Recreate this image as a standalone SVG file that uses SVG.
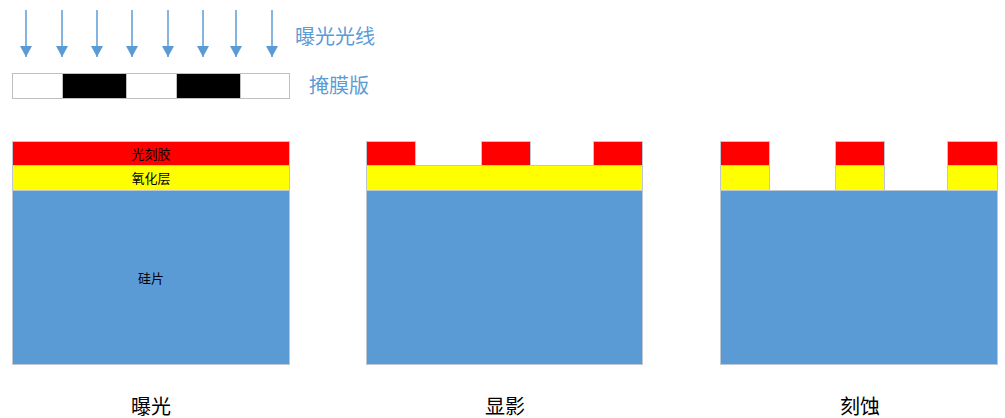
<svg xmlns="http://www.w3.org/2000/svg" width="1005" height="418" viewBox="0 0 1005 418">
<defs>
<marker id="ah" markerWidth="12" markerHeight="12" refX="11" refY="6" orient="auto" markerUnits="userSpaceOnUse" viewBox="0 0 12 12">
<path d="M0,0 L11,6 L0,12 Z" fill="#5b9bd5"/>
</marker>
</defs>
<style>
.ray{stroke:#5b9bd5;stroke-width:1.5;fill:none}
.lbl{font-family:"Noto Sans CJK SC","Liberation Sans",sans-serif;fill:#5b9bd5;font-size:20px}
.t{font-family:"Noto Sans CJK SC","Liberation Sans",sans-serif;fill:#000;font-size:13px;text-anchor:middle}
.cap{font-family:"Noto Sans CJK SC","Liberation Sans",sans-serif;fill:#000;font-size:20px;text-anchor:middle}
.r{fill:#ff0000;stroke:#bfc7d3;stroke-width:1}
.y{fill:#ffff00;stroke:#bfc7d3;stroke-width:1}
.b{fill:#5b9bd5;stroke:#bfc7d3;stroke-width:1}
.w{fill:#ffffff;stroke:#bfbfbf;stroke-width:1}
.k{fill:#000000;stroke:#bfbfbf;stroke-width:1}
</style>
<g id="connectors">
<line class="ray" x1="26" y1="10" x2="26" y2="57" marker-end="url(#ah)"/>
<line class="ray" x1="62" y1="10" x2="62" y2="57" marker-end="url(#ah)"/>
<line class="ray" x1="97" y1="10" x2="97" y2="57" marker-end="url(#ah)"/>
<line class="ray" x1="132" y1="10" x2="132" y2="57" marker-end="url(#ah)"/>
<line class="ray" x1="168" y1="10" x2="168" y2="57" marker-end="url(#ah)"/>
<line class="ray" x1="203" y1="10" x2="203" y2="57" marker-end="url(#ah)"/>
<line class="ray" x1="236" y1="10" x2="236" y2="57" marker-end="url(#ah)"/>
<line class="ray" x1="272" y1="10" x2="272" y2="57" marker-end="url(#ah)"/>
</g>
<g id="label-light"><text class="lbl" x="295" y="44">曝光光线</text></g>
<g id="mask">
<rect class="w" x="12.5" y="73.5" width="50" height="25"/>
<rect class="k" x="62.5" y="73.5" width="64" height="25"/>
<rect class="w" x="126.5" y="73.5" width="50" height="25"/>
<rect class="k" x="176.5" y="73.5" width="64" height="25"/>
<rect class="w" x="240.5" y="73.5" width="49" height="25"/>
</g>
<g id="label-mask"><text class="lbl" x="309" y="93">掩膜版</text></g>
<g id="panel-exposure">
<rect class="b" x="12.5" y="190.5" width="277" height="174"/>
<rect class="y" x="12.5" y="165.5" width="277" height="25"/>
<rect class="r" x="12.5" y="141.5" width="277" height="24"/>
<text class="t" x="151" y="158.5">光刻胶</text>
<text class="t" x="151" y="182.5">氧化层</text>
<text class="t" x="151" y="283">硅片</text>
</g>
<g id="panel-develop">
<rect class="b" x="366.5" y="190.5" width="276" height="174"/>
<rect class="y" x="366.5" y="165.5" width="276" height="25"/>
<rect class="r" x="366.5" y="141.5" width="49" height="24"/>
<rect class="r" x="481.5" y="141.5" width="49" height="24"/>
<rect class="r" x="593.5" y="141.5" width="49" height="24"/>
</g>
<g id="panel-etch">
<rect class="b" x="720.5" y="190.5" width="277" height="174"/>
<rect class="y" x="720.5" y="165.5" width="49" height="25"/>
<rect class="y" x="835.5" y="165.5" width="49" height="25"/>
<rect class="y" x="947.5" y="165.5" width="50" height="25"/>
<rect class="r" x="720.5" y="141.5" width="49" height="24"/>
<rect class="r" x="835.5" y="141.5" width="49" height="24"/>
<rect class="r" x="947.5" y="141.5" width="50" height="24"/>
</g>
<g id="captions">
<text class="cap" x="151" y="414">曝光</text>
<text class="cap" x="505" y="414">显影</text>
<text class="cap" x="860" y="414">刻蚀</text>
</g>
</svg>
